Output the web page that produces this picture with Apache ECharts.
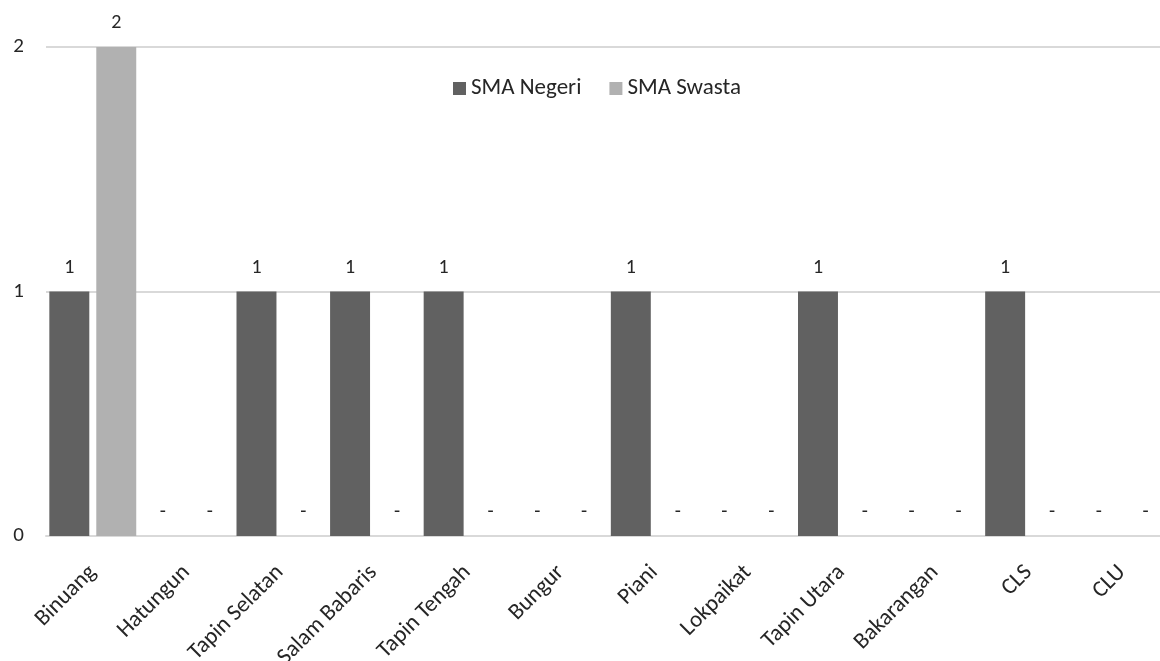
<!DOCTYPE html>
<html>
<head>
<meta charset="utf-8">
<script src="https://cdn.jsdelivr.net/npm/echarts@6/dist/echarts.min.js"></script>
<style>
html,body{margin:0;padding:0;background:#fff;}
#chart{width:1160px;height:661px;}
</style>
</head>
<body>
<div id="chart"></div>
<script>
const categories = ['Binuang','Hatungun','Tapin Selatan','Salam Babaris','Tapin Tengah','Bungur','Piani','Lokpaikat','Tapin Utara','Bakarangan','CLS','CLU'];
const smaNegeri = [1,0,1,1,1,0,1,0,1,0,1,0];
const smaSwasta = [2,0,0,0,0,0,0,0,0,0,0,0];
const yTicks = [0,1,2];

const FONT = 'Carlito, Lato, sans-serif';
const chart = echarts.init(document.getElementById('chart'));
const labelCfg = {
  show: true,
  position: 'top',
  distance: 14,
  fontFamily: FONT,
  fontSize: 20,
  color: '#262626',
  formatter: p => (p.value === 0 ? '-' : String(p.value))
};
chart.setOption({
  animation: false,
  textStyle: {fontFamily: FONT},
  legend: {
    left: 448,
    top: 72,
    itemWidth: 13,
    itemHeight: 13,
    itemGap: 28,
    icon: 'rect',
    textStyle: {fontFamily: FONT, fontSize: 23, color: '#262626'},
    data: ['SMA Negeri','SMA Swasta']
  },
  grid: {left: 46, width: 1123, top: 47, bottom: 125, containLabel: false, outerBoundsMode: 'none'},
  xAxis: {
    type: 'category',
    data: categories,
    axisLine: {lineStyle: {color: '#d9d9d9', width: 2}},
    axisTick: {show: false},
    axisLabel: {rotate: 45, margin: 33, fontFamily: FONT, fontSize: 23, color: '#262626', interval: 0}
  },
  yAxis: {
    type: 'value',
    min: yTicks[0],
    max: yTicks[yTicks.length-1],
    interval: 1,
    axisLine: {show: false},
    axisTick: {show: false},
    splitLine: {lineStyle: {color: '#d9d9d9', width: 2}},
    axisLabel: {margin: 22, fontFamily: FONT, fontSize: 21, color: '#262626'}
  },
  series: [
    {name: 'SMA Negeri', type: 'bar', data: smaNegeri, barWidth: '42.7%', barGap: '17.5%',
     itemStyle: {color: '#616161'}, label: labelCfg},
    {name: 'SMA Swasta', type: 'bar', data: smaSwasta, barWidth: '42.7%',
     itemStyle: {color: '#b1b1b1'}, label: labelCfg}
  ]
});
</script>
</body>
</html>
